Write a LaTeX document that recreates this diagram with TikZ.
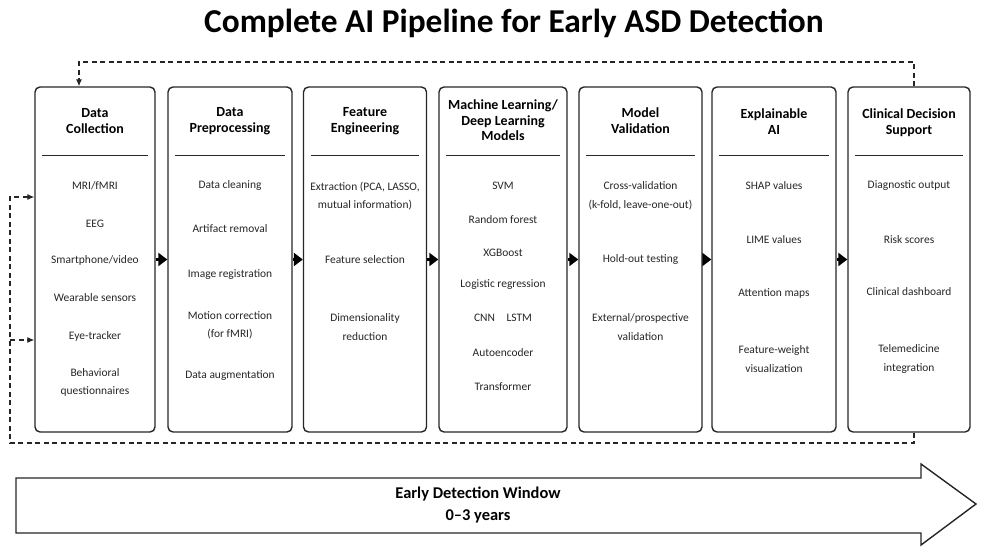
\documentclass[tikz,border=0pt]{standalone}
\usepackage{fontspec}
\setmainfont{Carlito}
\usetikzlibrary{arrows.meta}

\tikzset{
  stage/.style={draw=black!85, line width=1.4bp, rounded corners=5bp, minimum height=345bp},
  head/.style={font=\bfseries\fontsize{14}{16}\selectfont, align=center, text=black},
  item/.style={font=\fontsize{11.5}{18.5}\selectfont, align=center, text=black!85},
  rule/.style={line width=1.1bp, draw=black!85},
  flow/.style={line width=3bp, -{Triangle[length=9bp,width=13bp]}},
  fb/.style={line width=1.1bp, dash pattern=on 5bp off 3.5bp, draw=black!85},
  fbtip/.style={fb, -{Latex[length=7bp,width=6bp]}},
  window/.style={draw=black!85, line width=1.4bp, fill=white}
}

\begin{document}
\begin{tikzpicture}[x=1bp,y=-1bp]
\useasboundingbox (0,0) rectangle (986,555);

\node[font=\bfseries\fontsize{33.5}{36}\selectfont] (title) at (514,23) {Complete AI Pipeline for Early ASD Detection};

\node[stage, minimum width=120bp] (collect) at (95,259.5) {};
\node[stage, minimum width=124bp] (prep) at (230,259.5) {};
\node[stage, minimum width=123bp] (feat) at (365,259.5) {};
\node[stage, minimum width=128bp] (models) at (503,259.5) {};
\node[stage, minimum width=123bp] (valid) at (640.5,259.5) {};
\node[stage, minimum width=124bp] (xai) at (774,259.5) {};
\node[stage, minimum width=122bp] (cds) at (909,259.5) {};

\foreach \b in {collect,prep,feat,models,valid,xai,cds}
  \draw[rule] ([shift={(8bp,-69bp)}]\b.north west) -- ([shift={(-8bp,-69bp)}]\b.north east);

\node[head] (collectH) at (95,121) {Data\\Collection};
\node[head] (prepH) at (230,121) {Data\\Preprocessing};
\node[head] (featH) at (365,121) {Feature\\Engineering};
\node[head, font=\bfseries\fontsize{14}{15.5}\selectfont] (modelsH) at (503,120.5) {Machine Learning/\\Deep Learning\\Models};
\node[head] (validH) at (640.5,121) {Model\\Validation};
\node[head] (xaiH) at (774,121.5) {Explainable\\AI};
\node[head] (cdsH) at (909,123) {Clinical Decision\\Support};

\node[item] (collect1) at (95,186) {MRI/fMRI};
\node[item] (collect2) at (95,224) {EEG};
\node[item] (collect3) at (95,260) {Smartphone/video};
\node[item] (collect4) at (95,298) {Wearable sensors};
\node[item] (collect5) at (95,336) {Eye-tracker};
\node[item] (collect6) at (95,382.5) {Behavioral\\questionnaires};

\node[item] (prep1) at (230,186) {Data cleaning};
\node[item] (prep2) at (230,229) {Artifact removal};
\node[item] (prep3) at (230,275) {Image registration};
\node[item] (prep4) at (230,325.5) {Motion correction\\(for fMRI)};
\node[item] (prep5) at (230,376) {Data augmentation};

\node[item] (feat1) at (365,196) {Extraction (PCA, LASSO,\\mutual information)};
\node[item] (feat2) at (365,260) {Feature selection};
\node[item] (feat3) at (365,327) {Dimensionality\\reduction};

\node[item] (models1) at (503,186) {SVM};
\node[item] (models2) at (503,220) {Random forest};
\node[item] (models3) at (503,253) {XGBoost};
\node[item] (models4) at (503,285) {Logistic regression};
\node[item] (models5) at (503,318) {CNN\quad LSTM};
\node[item] (models6) at (503,353) {Autoencoder};
\node[item] (models7) at (503,387) {Transformer};

\node[item] (valid1) at (640.5,196) {Cross-validation\\(k-fold, leave-one-out)};
\node[item] (valid2) at (640.5,260) {Hold-out testing};
\node[item] (valid3) at (640.5,327) {External/prospective\\validation};

\node[item] (xai1) at (774,186) {SHAP values};
\node[item] (xai2) at (774,240) {LIME values};
\node[item] (xai3) at (774,293) {Attention maps};
\node[item] (xai4) at (774,359) {Feature-weight\\visualization};

\node[item] (cds1) at (909,186) {Diagnostic output};
\node[item] (cds2) at (909,240) {Risk scores};
\node[item] (cds3) at (909,292) {Clinical dashboard};
\node[item] (cds4) at (909,359) {Telemedicine\\integration};

\draw[flow] (collect) -- (prep);
\draw[flow] (prep) -- (feat);
\draw[flow] (feat) -- (models);
\draw[flow] (models) -- (valid);
\draw[flow] (valid) -- (xai);
\draw[flow] (xai) -- (cds);

\coordinate (loopT) at (79,62);
\coordinate (loopB) at (10,443);
\draw[fbtip] ([xshift=5bp]cds.north) |- (loopT) -- (loopT |- collect.north);
\draw[fbtip] ([xshift=5bp]cds.south) |- (loopB) |- (collect.west |- 0,197);
\draw[fbtip] (loopB |- 0,340) -- (collect.west |- 0,340);

\draw[window] (16,478) -- (921,478) -- (921,464) -- (976,504) -- (921,545) -- (921,533) -- (16,533) -- cycle;
\node[font=\bfseries\fontsize{16.5}{23}\selectfont, align=center] (windowT) at (478,505) {Early Detection Window\\0--3 years};
\end{tikzpicture}
\end{document}
